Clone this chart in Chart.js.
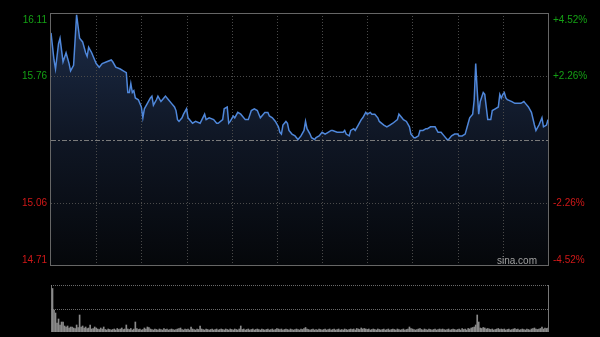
<!DOCTYPE html>
<html>
<head>
<meta charset="utf-8">
<script src="https://cdn.jsdelivr.net/npm/chart.js@4.4.0/dist/chart.umd.min.js"></script>
<style>
  html, body { margin: 0; padding: 0; background: #000; }
  #wrap { position: relative; width: 600px; height: 337px; background: #000; overflow: hidden; }
  #priceChart { position: absolute; left: 0; top: 0; }
  #volChart { position: absolute; left: 0; top: 270px; }
</style>
</head>
<body>
<div id="wrap">
  <canvas id="priceChart" width="600" height="270"></canvas>
  <canvas id="volChart" width="600" height="67"></canvas>
</div>
<script>
// Minutes since the open (lunch break removed, 330 = close)
var mins = [0, 2, 3, 5, 6, 8, 10, 12, 13, 15, 17, 19, 21, 23, 24, 25, 27, 29, 30, 32, 34, 37, 40, 41, 43, 46, 48, 50,
  51, 52, 53, 54, 55, 56, 58, 60, 61, 62, 64, 66, 67, 68, 70, 71, 73, 74, 76, 78, 80, 82, 83, 84, 85, 87, 88, 90,
  91, 93, 94, 96, 99, 102, 103, 105, 108, 110, 111, 114, 115, 117, 118, 119, 121, 122, 124, 126, 127, 129, 131,
  133, 135, 137, 138, 139, 141, 142, 144, 145, 147, 149, 151, 152, 153, 154, 156, 157, 158, 160, 162, 163, 164,
  166, 168, 169, 170, 172, 173, 175, 176, 178, 180, 182, 184, 186, 187, 190, 192, 194, 195, 196, 198, 199, 201,
  202, 204, 206, 207, 209, 210, 212, 213, 215, 217, 218, 221, 223, 225, 227, 230, 231, 233, 234, 236, 238, 239,
  241, 242, 244, 245, 247, 249, 250, 252, 254, 255, 257, 259, 261, 263, 264, 266, 268, 270, 271, 272, 273, 275,
  277, 278, 280, 281, 282, 283, 284, 285, 287, 288, 289, 290, 292, 293, 295, 297, 298, 299, 300, 301, 302, 303,
  306, 308, 310, 312, 314, 315, 317, 319, 321, 322, 324, 326, 327, 329, 330];

var prices = [16.00, 15.85, 15.80, 15.94, 15.97, 15.84, 15.89, 15.83, 15.79, 15.82, 16.10, 15.97, 15.95, 15.89, 15.87,
  15.92, 15.89, 15.85, 15.83, 15.81, 15.83, 15.84, 15.85, 15.84, 15.81, 15.80, 15.79, 15.78,
  15.67, 15.67, 15.72, 15.67, 15.68, 15.64, 15.63, 15.59, 15.53, 15.58, 15.61, 15.64, 15.65, 15.60, 15.63, 15.65,
  15.62, 15.63, 15.65, 15.63, 15.61, 15.59, 15.57, 15.52, 15.51, 15.53, 15.55, 15.58,
  15.53, 15.51, 15.50, 15.51, 15.50, 15.55, 15.52, 15.53, 15.52, 15.50, 15.50, 15.52, 15.58, 15.59, 15.50, 15.51,
  15.54, 15.53, 15.56, 15.55, 15.54, 15.52, 15.52,
  15.57, 15.58, 15.57, 15.55, 15.53, 15.55, 15.56, 15.56, 15.54, 15.53, 15.51, 15.48, 15.45, 15.44, 15.49, 15.51,
  15.50, 15.46, 15.44, 15.43, 15.42, 15.41,
  15.43, 15.46, 15.51, 15.47, 15.44, 15.42, 15.41, 15.42, 15.43, 15.45, 15.44, 15.45, 15.46, 15.46, 15.45, 15.45,
  15.45, 15.46, 15.44, 15.43, 15.46, 15.47,
  15.46, 15.49, 15.52, 15.53, 15.56, 15.55, 15.56, 15.55, 15.55, 15.53, 15.51, 15.49, 15.48, 15.49, 15.50, 15.52,
  15.55, 15.53, 15.52, 15.51, 15.48, 15.44,
  15.42, 15.42, 15.43, 15.46, 15.46, 15.47, 15.47, 15.48, 15.48, 15.48, 15.45, 15.45, 15.43, 15.41, 15.41, 15.43,
  15.44, 15.44, 15.43, 15.43, 15.43, 15.44,
  15.50, 15.53, 15.55, 15.63, 15.83, 15.68, 15.55, 15.62, 15.67, 15.66, 15.59, 15.52, 15.52, 15.57, 15.58, 15.59,
  15.66, 15.64, 15.66, 15.67, 15.64, 15.63,
  15.62, 15.61, 15.61, 15.61, 15.62, 15.61, 15.59, 15.56, 15.49, 15.46, 15.49, 15.53, 15.48, 15.49, 15.52];

// Per-minute volume, one bar per minute 0..330
var volumes = [
  4700, 4350, 2200, 1900, 900, 1300, 700, 1000, 1000, 600,
  500, 600, 400, 500, 500, 400, 350, 700, 450, 1700,
  500, 600, 400, 500, 350, 400, 700, 300, 350, 500,
  400, 300, 250, 400, 300, 500, 250, 200, 300, 250,
  200, 250, 300, 200, 350, 250, 300, 400, 250, 300,
  700, 300, 250, 350, 200, 300, 1000, 350, 250, 300,
  200, 250, 400, 300, 500, 450, 300, 250, 200, 300,
  250, 200, 300, 250, 200, 350, 250, 300, 200, 250,
  300, 250, 200, 250, 300, 350, 400, 250, 200, 300,
  250, 300, 200, 500, 300, 250, 200, 300, 250, 600,
  300, 250, 200, 300, 250, 200, 250, 300, 200, 250,
  300, 200, 250, 300, 250, 200, 300, 250, 200, 300,
  250, 200, 300, 250, 200, 300, 600, 250, 300, 200,
  250, 300, 200, 250, 300, 200, 250, 300, 250, 200,
  300, 250, 200, 250, 300, 200, 250, 300, 200, 250,
  350, 300, 250, 300, 200, 250, 300, 250, 200, 300,
  250, 200, 250, 300, 250, 200, 300, 250, 350, 450,
  300, 250, 200, 250, 300, 200, 250, 200, 300, 250,
  200, 250, 300, 200, 250, 300, 200, 250, 300, 200,
  250, 300, 200, 250, 200, 300, 250, 200, 250, 300,
  250, 300, 200, 350, 300, 250, 400, 300, 350, 300,
  250, 300, 200, 250, 300, 250, 200, 300, 250, 200,
  250, 300, 200, 250, 300, 200, 250, 300, 250, 200,
  300, 250, 200, 250, 300, 200, 250, 300, 500, 350,
  300, 250, 200, 250, 300, 350, 250, 200, 300, 250,
  200, 300, 250, 200, 250, 300, 200, 250, 300, 250,
  300, 250, 200, 250, 300, 200, 250, 300, 250, 200,
  250, 300, 200, 350, 250, 300, 200, 350, 300, 400,
  450, 500, 700, 1700, 1000, 400, 350, 450, 400, 300,
  350, 300, 250, 300, 200, 250, 300, 350, 250, 300,
  250, 300, 200, 250, 300, 200, 250, 300, 350, 250,
  300, 200, 250, 300, 250, 200, 300, 250, 200, 300,
  350, 400, 300, 250, 300, 350, 500, 300, 400, 350,
  400];

var leftTicks = [16.11, 15.76, 15.06, 14.71];
var rightTicks = ['+4.52%', '+2.26%', '-2.26%', '-4.52%'];
var prevClose = 15.41;
var priceMin = 14.71;
var priceMax = 16.11;
var volMax = 4700;
var sessionLength = 330;

var upColor = '#14a014';
var downColor = '#d01818';
var lineColor = '#4f87da';
var gridColor = '#4a4a4a';
var frameColor = '#666666';
var labelFont = '10px Arial, "Liberation Sans", sans-serif';

var pricePoints = mins.map(function (m, i) { return { x: m, y: prices[i] }; });
var volPoints = volumes.map(function (v, i) { return { x: i, y: v }; });

function hLine(ctx, x1, x2, y, dash, color) {
  ctx.save();
  ctx.strokeStyle = color;
  ctx.lineWidth = 1;
  ctx.setLineDash(dash);
  ctx.beginPath();
  ctx.moveTo(x1, Math.round(y) + 0.5);
  ctx.lineTo(x2, Math.round(y) + 0.5);
  ctx.stroke();
  ctx.restore();
}

function vLine(ctx, x, y1, y2, dash, color) {
  ctx.save();
  ctx.strokeStyle = color;
  ctx.lineWidth = 1;
  ctx.setLineDash(dash);
  ctx.beginPath();
  ctx.moveTo(Math.round(x) + 0.5, y1);
  ctx.lineTo(Math.round(x) + 0.5, y2);
  ctx.stroke();
  ctx.restore();
}

// grid drawn between the fill and the line
var priceGrid = {
  id: 'priceGrid',
  beforeDatasetDraw: function (chart, args) {
    if (args.index !== 0) return;
    var ctx = chart.ctx, a = chart.chartArea, xs = chart.scales.x, ys = chart.scales.y;
    for (var m = 30; m < sessionLength; m += 30) {
      vLine(ctx, xs.getPixelForValue(m), a.top, a.bottom, [1, 2], gridColor);
    }
    hLine(ctx, a.left, a.right, ys.getPixelForValue(15.76), [1, 2], gridColor);
    hLine(ctx, a.left, a.right, ys.getPixelForValue(15.06), [1, 2], gridColor);
    hLine(ctx, a.left, a.right, ys.getPixelForValue(prevClose), [5, 2, 2, 2], '#7a7a7a');
  },
  afterDraw: function (chart) {
    var ctx = chart.ctx, a = chart.chartArea, ys = chart.scales.y;
    ctx.save();
    ctx.strokeStyle = frameColor;
    ctx.lineWidth = 1;
    ctx.strokeRect(Math.round(a.left) - 0.5, Math.round(a.top) + 0.5, Math.round(a.right - a.left) + 1, Math.round(a.bottom - a.top) - 1);
    ctx.font = labelFont;
    ctx.textBaseline = 'middle';
    leftTicks.forEach(function (v, i) {
      var py = ys.getPixelForValue(v);
      py = Math.min(Math.max(py, a.top + 7), a.bottom - 6);
      ctx.fillStyle = v > prevClose ? upColor : downColor;
      ctx.textAlign = 'right';
      ctx.fillText(v.toFixed(2), a.left - 4, py);
      ctx.textAlign = 'left';
      ctx.fillText(rightTicks[i], a.right + 5, py);
    });
    ctx.fillStyle = '#a0a0a0';
    ctx.textAlign = 'right';
    ctx.textBaseline = 'alphabetic';
    ctx.fillText('sina.com', a.right - 11, a.bottom - 2);
    ctx.restore();
  }
};

function fillGradient(context) {
  var chart = context.chart, a = chart.chartArea;
  if (!a) return 'rgba(27,42,69,0.9)';
  var g = chart.ctx.createLinearGradient(0, a.top, 0, a.bottom);
  g.addColorStop(0, '#1c2c48');
  g.addColorStop(0.5, '#0f1624');
  g.addColorStop(1, '#05070a');
  return g;
}

new Chart(document.getElementById('priceChart'), {
  type: 'line',
  data: {
    datasets: [{
      label: 'price',
      data: pricePoints,
      borderColor: lineColor,
      borderWidth: 1.5,
      pointRadius: 0,
      tension: 0,
      fill: false
    }, {
      label: 'fill',
      data: pricePoints,
      borderWidth: 0,
      borderColor: 'rgba(0,0,0,0)',
      backgroundColor: fillGradient,
      pointRadius: 0,
      tension: 0,
      fill: 'start'
    }]
  },
  options: {
    responsive: false,
    animation: false,
    devicePixelRatio: 1,
    layout: { padding: { left: 51, right: 52, top: 13, bottom: 4 } },
    plugins: { legend: { display: false }, tooltip: { enabled: false } },
    scales: {
      x: { type: 'linear', min: 0, max: sessionLength, display: false },
      y: { min: priceMin, max: priceMax, display: false }
    }
  },
  plugins: [priceGrid]
});

var volGrid = {
  id: 'volGrid',
  beforeDatasetsDraw: function (chart) {
    var ctx = chart.ctx, a = chart.chartArea, ys = chart.scales.y;
    hLine(ctx, a.left, a.right, ys.getPixelForValue(volMax), [1, 1], '#6a6a6a');
    hLine(ctx, a.left, a.right, ys.getPixelForValue(volMax / 2), [1, 1], '#6a6a6a');
    vLine(ctx, a.right, a.top, a.bottom, [], '#777777');
  }
};

new Chart(document.getElementById('volChart'), {
  type: 'bar',
  data: {
    datasets: [{
      label: 'volume',
      data: volPoints,
      backgroundColor: '#8a8a8a',
      borderWidth: 0,
      barThickness: 1
    }]
  },
  options: {
    responsive: false,
    animation: false,
    devicePixelRatio: 1,
    layout: { padding: { left: 51, right: 52, top: 15, bottom: 5 } },
    plugins: { legend: { display: false }, tooltip: { enabled: false } },
    scales: {
      x: { type: 'linear', min: 0, max: sessionLength, display: false, offset: false },
      y: { min: 0, max: volMax, display: false }
    }
  },
  plugins: [volGrid]
});
</script>
</body>
</html>
